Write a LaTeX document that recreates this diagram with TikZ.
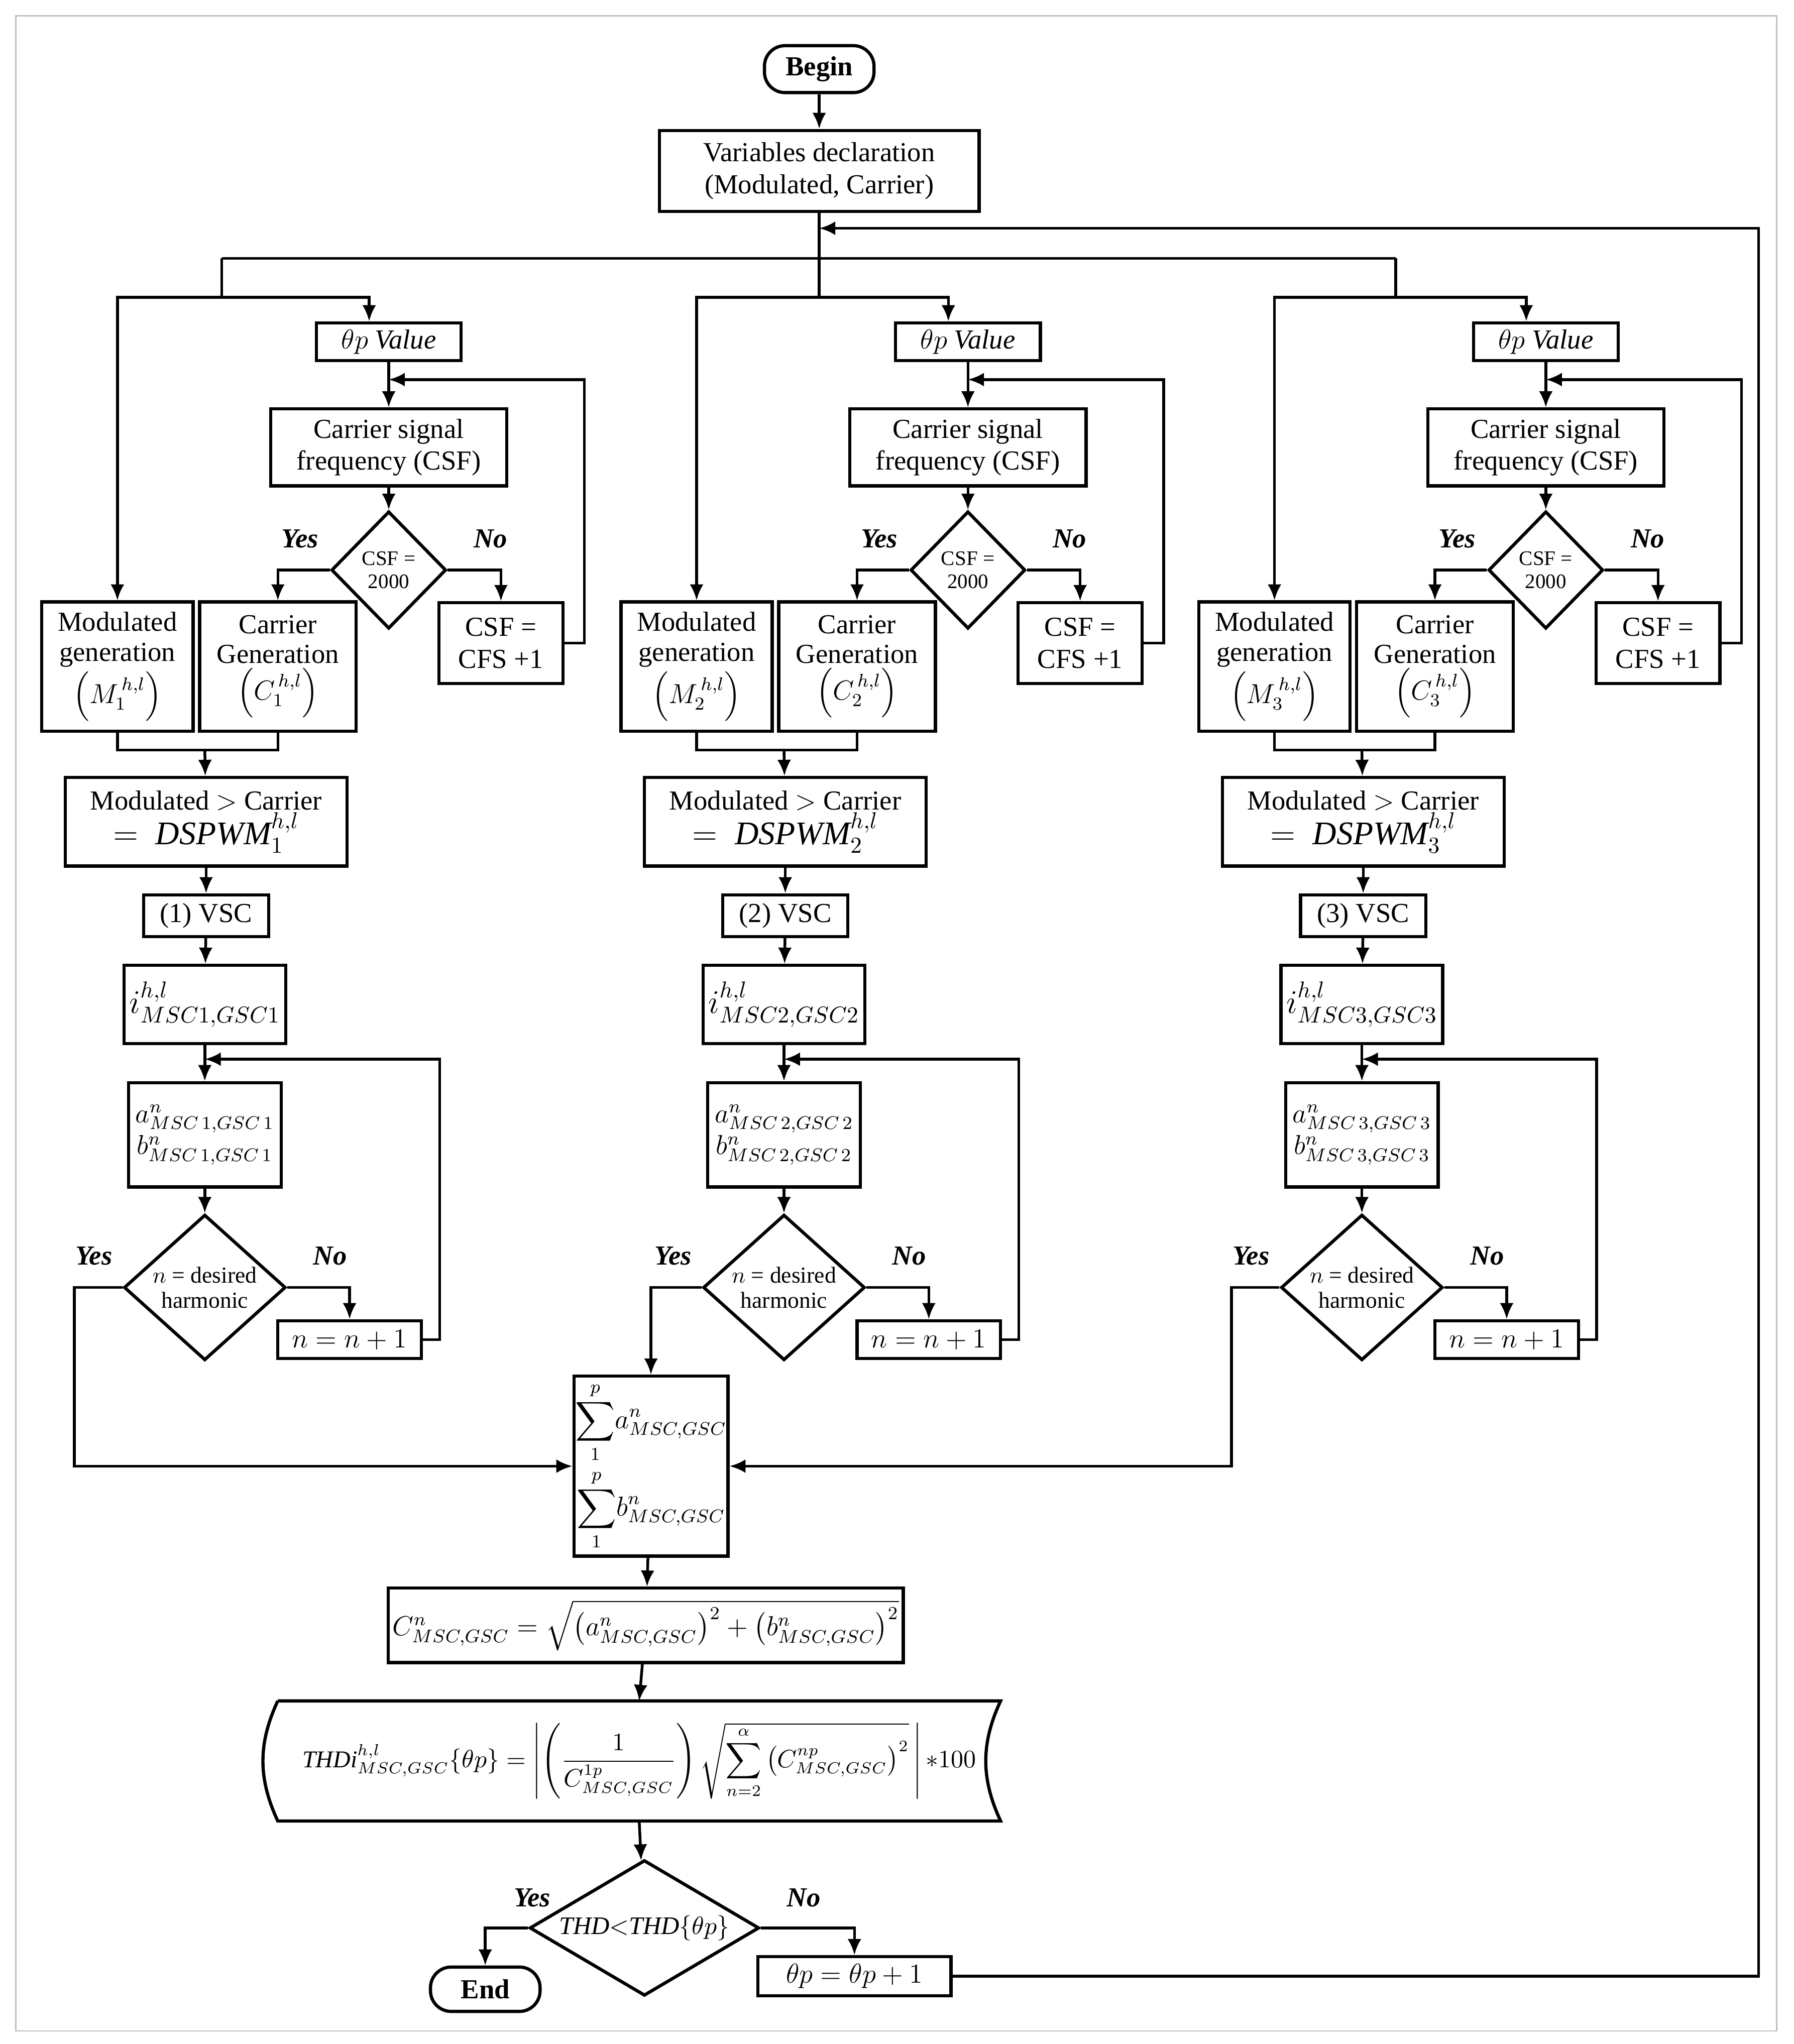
\documentclass[tikz,border=0pt]{standalone}
\usepackage{amsmath}
\usepackage{fontspec}
\setmainfont{Liberation Serif}
\usetikzlibrary{shapes.geometric,arrows.meta}
\tikzset{
	box/.style={draw,line width=1.4pt,align=center,inner sep=1pt},
	w/.style={minimum width={0.02cm*#1}},
	h/.style={minimum height={0.02cm*#1}},
	dec/.style={draw,diamond,line width=1.4pt,align=center,inner sep=0pt},
	term/.style={draw,line width=1.4pt,rounded corners=9pt,inner sep=1pt},
	lbl/.style={font=\fontsize{12}{14}\selectfont\bfseries\itshape},
	arr/.style={-{Latex[length=7pt,width=6pt]}},
}
\begin{document}
\begin{tikzpicture}[x=0.02cm,y=-0.02cm,line width=1.2pt,font=\fontsize{12}{14}\selectfont]
	\useasboundingbox (0,0) rectangle (1375,1567);
	\draw[gray!50,line width=0.6pt] (12,12) rectangle (1362,1557);
	
	% start
	\node[term,w=84,h=36] (begin) at (628,53) {\textbf{Begin}};
	\node[box,w=245,h=62] (var) at (628,131) {Variables declaration\\(Modulated, Carrier)};
	\draw[arr] (begin) -- (var);
	\coordinate (join) at (628,175);
	\coordinate (split) at (628,198);
	\draw (var) -- (split);
	\draw (170,198) -- (1070,198);
	
	% three columns
	\foreach \i/\dx/\bx in {1/0/170,2/444/628,3/887/1070}{
		\node[box,w=111,h=29] (th\i) at (\dx+298,262) {$\theta p$ \textit{Value}};
		\node[box,w=181,h=59] (csf\i) at (\dx+298,343) {Carrier signal\\frequency (CSF)};
		\node[dec,w=88,h=90,font=\fontsize{9}{10}\selectfont] (dia\i) at (\dx+298,437) {CSF =\\2000};
		\node[box,w=95,h=62] (inc\i) at (\dx+384,493) {CSF =\\CFS +1};
		\node[box,w=116,h=99,font=\fontsize{12}{13}\selectfont] (mod\i) at (\dx+90,511) {Modulated\\generation\\[1pt]$\left(M_{\i}^{\,h,l}\right)$};
		\node[box,w=120,h=99,font=\fontsize{12}{13}\selectfont] (car\i) at (\dx+213,511) {Carrier\\Generation\\[1pt]$\left(C_{\i}^{\,h,l}\right)$};
		\node[box,w=216,h=68] (cmp\i) at (\dx+158,630) {Modulated $>$ Carrier\\{\Large$=\ \mathit{DSPWM}_{\i}^{h,l}$}};
		\node[box,w=96,h=32] (vsc\i) at (\dx+158,702) {(\i) VSC};
		\node[box,w=124,h=60] (cur\i) at (\dx+157,770) {\Large$i^{h,l}_{MSC\i,GSC\i}$};
		\node[box,w=117,h=80] (ab\i) at (\dx+157,870) {\large$a^{n}_{MSC\,\i,GSC\,\i}$\\\large$b^{n}_{MSC\,\i,GSC\,\i}$};
		\node[dec,w=124,h=110,font=\fontsize{10}{11}\selectfont] (hd\i) at (\dx+157,987) {$n$ = desired\\harmonic};
		\node[box,w=110,h=29] (nn\i) at (\dx+268,1027) {$n = n+1$};
		\coordinate (b\i) at (\bx,228);
		\coordinate (t\i) at (\dx+283,228);
		\coordinate (r\i) at (\dx+448,291);
		\coordinate (m\i) at (\dx+298,291);
		\coordinate (c\i) at (\dx+157,575);
		\coordinate (q\i) at (\dx+337,812);
		\coordinate (p\i) at (\dx+157,812);
		\draw (\bx,198) -- (b\i);
		\draw[arr] (b\i) -| (mod\i.north);
		\draw[arr] (b\i) -- (t\i) -- (t\i |- th\i.north);
		\draw[arr] (th\i) -- (csf\i);
		\draw[arr] (csf\i) -- (dia\i);
		\draw[arr] (dia\i.west) -| (car\i.north);
		\draw[arr] (dia\i.east) -| (inc\i.north);
		\draw[arr] (inc\i.east) -| (r\i) -- (m\i);
		\draw (mod\i.south) |- (c\i) -| (car\i.south);
		\draw[arr] (c\i) -- (cmp\i);
		\draw[arr] (cmp\i) -- (vsc\i);
		\draw[arr] (vsc\i) -- (cur\i);
		\draw[arr] (cur\i) -- (ab\i);
		\draw[arr] (ab\i) -- (hd\i);
		\draw[arr] (hd\i.east) -| (nn\i.north);
		\draw[arr] (nn\i.east) -| (q\i) -- (p\i);
		\node[lbl] at (\dx+230,413) {Yes};
		\node[lbl] at (\dx+376,413) {No};
		\node[lbl] at (\dx+72,963) {Yes};
		\node[lbl] at (\dx+253,963) {No};
	}
	
	% summation and THD
	\node[box,w=118,h=138,inner sep=0pt] (sum) at (499,1124) {$\displaystyle\sum_{1}^{p}\! a^{n}_{MSC,GSC}$\\[2pt]$\displaystyle\sum_{1}^{p}\! b^{n}_{MSC,GSC}$};
	\coordinate (y1) at (57,1124);
	\coordinate (y3) at (944,1124);
	\draw[arr] (hd1.west) -| (y1) -- (sum.west);
	\draw[arr] (hd2.west) -| (sum.north);
	\draw[arr] (hd3.west) -| (y3) -- (sum.east);
	\node[box,w=395,h=57] (cn) at (495,1246) {$C^{n}_{MSC,GSC}=\sqrt{\left(a^{n}_{MSC,GSC}\right)^2+\left(b^{n}_{MSC,GSC}\right)^2}$};
	\draw[arr] (sum) -- (cn);
	\node[w=552,h=90,inner sep=0pt] (thd) at (490,1350) {};
	\node[font=\fontsize{10.5}{12}\selectfont] at (thd) {$\mathit{THDi}^{h,l}_{MSC,GSC}\{\theta p\}=\left|\left(\dfrac{1}{C^{1p}_{MSC,GSC}}\right)\sqrt{\displaystyle\sum_{n=2}^{\alpha}\left(C^{np}_{MSC,GSC}\right)^2}\,\right|{*}100$};
	\draw[line width=1.4pt] (thd.north west) -- (thd.north east) to[bend right=25] (thd.south east) -- (thd.south west) to[bend left=25] (thd.north west);
	\draw[arr] (cn) -- (thd.north);
	
	% final test
	\node[dec,w=176,h=104] (fin) at (494,1478) {};
	\node[font=\fontsize{11}{12}\selectfont] at (fin) {$\mathit{THD}{<}\mathit{THD}\{\theta p\}$};
	\node[term,w=84,h=34] (end) at (372,1525) {\textbf{End}};
	\node[box,w=148,h=30] (tp) at (655,1515) {$\theta p=\theta p+1$};
	\coordinate (ret) at (1348,175);
	\draw[arr] (thd.south) -- (fin);
	\draw[arr] (fin.west) -| (end.north);
	\draw[arr] (fin.east) -| (tp.north);
	\draw[arr] (tp.east) -| (ret) -- (join);
	\node[lbl] at (408,1455) {Yes};
	\node[lbl] at (616,1455) {No};
\end{tikzpicture}
\end{document}
